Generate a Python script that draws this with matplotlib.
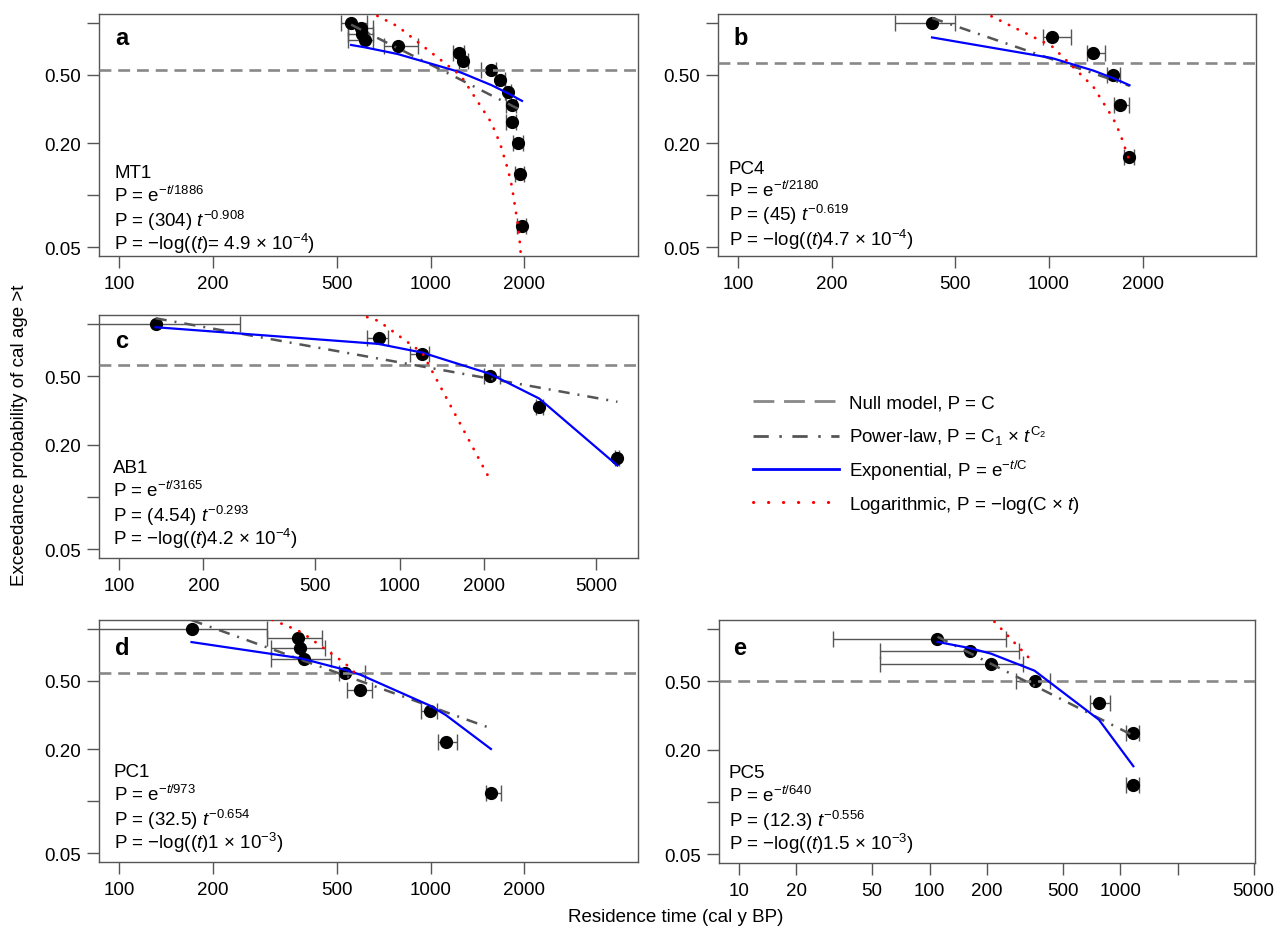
import matplotlib
matplotlib.use('Agg')
import matplotlib.pyplot as plt
from matplotlib.lines import Line2D
from matplotlib.ticker import FixedLocator, FixedFormatter, NullLocator

plt.rcParams['font.family'] = ['Liberation Sans', 'DejaVu Sans']
plt.rcParams['mathtext.fontset'] = 'custom'
plt.rcParams['mathtext.rm'] = 'Liberation Sans'
plt.rcParams['mathtext.it'] = 'Liberation Sans:italic'
plt.rcParams['mathtext.bf'] = 'Liberation Sans:bold'

W, H = 1275, 928
FS = 13.5

# ---- data ----
# a  MT1
a_t = [556, 599, 602, 615, 785, 1231, 1274, 1567, 1675, 1774, 1820, 1825, 1909, 1932, 1966]
a_p = [1.0, 0.933, 0.867, 0.8, 0.733, 0.667, 0.6, 0.533, 0.467, 0.4, 0.333, 0.267, 0.2, 0.133, 0.0667]
a_lo = [39, 55, 58, 70, 74, 46, 42, 120, 54, 44, 75, 80, 71, 70, 67]
a_hi = [70, 54, 50, 38, 124, 49, 42, 54, 55, 45, 59, 54, 71, 68, 66]
a_null = 0.533
a_exp = [0.745, 0.728, 0.727, 0.722, 0.660, 0.521, 0.509, 0.436, 0.411, 0.390, 0.381, 0.380, 0.363, 0.359, 0.353]
a_pow = [0.978, 0.913, 0.909, 0.891, 0.714, 0.475, 0.460, 0.380, 0.358, 0.340, 0.332, 0.331, 0.318, 0.314, 0.309]
a_log = [1.300, 1.226, 1.221, 1.199, 0.955, 0.506, 0.471, 0.264, 0.198, 0.140, 0.115, 0.112, 0.067, 0.055, 0.037]

# b  PC4
b_t = [421, 1021, 1390, 1611, 1694, 1816]
b_p = [1.0, 0.833, 0.667, 0.5, 0.333, 0.167]
b_lo = [102, 64, 61, 69, 70, 74]
b_hi = [79, 158, 127, 83, 122, 64]
b_null = 0.583
b_exp = [0.824, 0.626, 0.529, 0.478, 0.460, 0.435]
b_pow = [1.069, 0.617, 0.510, 0.466, 0.451, 0.432]
b_log = [1.620, 0.734, 0.426, 0.278, 0.228, 0.158]

# c  AB1
c_t = [135, 841, 1205, 2099, 3140, 5970]
c_p = [1.0, 0.833, 0.667, 0.5, 0.333, 0.167]
c_lo = [134, 75, 117, 98, 67, 100]
c_hi = [135, 71, 63, 186, 110, 100]
c_null = 0.583
c_exp = [0.958, 0.767, 0.683, 0.515, 0.371, 0.152]
c_pow = [1.079, 0.631, 0.568, 0.483, 0.429, 0.355]
c_log_t = [135, 841, 1205, 2099]
c_log = [2.87, 1.041, 0.681, 0.126]

# d  PC1
d_t = [171, 375, 382, 394, 532, 596, 996, 1121, 1563]
d_p = [1.0, 0.889, 0.778, 0.667, 0.556, 0.444, 0.333, 0.222, 0.111]
d_lo = [170, 76, 74, 86, 24, 55, 65, 63, 53]
d_hi = [128, 75, 77, 87, 86, 51, 57, 92, 120]
d_null = 0.556
d_exp = [0.839, 0.680, 0.675, 0.667, 0.579, 0.542, 0.359, 0.316, 0.201]
d_pow = [1.125, 0.674, 0.666, 0.652, 0.536, 0.498, 0.356, 0.329, 0.265]
d_log_t = [171, 375, 382, 394, 532, 596]
d_log = [1.766, 0.981, 0.962, 0.931, 0.631, 0.518]

# e  PC5
e_t = [110, 162, 210, 355, 772, 1170, 1170]
e_p = [0.875, 0.75, 0.625, 0.5, 0.375, 0.25, 0.125]
e_lo = [79, 107, 155, 72, 80, 102, 102]
e_hi = [142, 133, 97, 75, 115, 90, 90]
e_null = 0.5
e_exp = [0.842, 0.776, 0.720, 0.574, 0.299, 0.161, 0.161]
e_pow = [0.902, 0.727, 0.629, 0.470, 0.305, 0.242, 0.242]
e_log_t = [110, 162, 210, 355]
e_log = [1.802, 1.415, 1.155, 0.630]

# annotation text
a_txt = ['MT1', '1886', '(304)', '-0.908', '= 4.9 \u00d7 10$^{-4}$']
b_txt = ['PC4', '2180', '(45)', '-0.619', '4.7 \u00d7 10$^{-4}$']
c_txt = ['AB1', '3165', '(4.54)', '-0.293', '4.2 \u00d7 10$^{-4}$']
d_txt = ['PC1', '973', '(32.5)', '-0.654', '1 \u00d7 10$^{-3}$']
e_txt = ['PC5', '640', '(12.3)', '-0.556', '1.5 \u00d7 10$^{-3}$']

x_ticks_abd = [100, 200, 500, 1000, 2000]
x_ticks_c = [100, 200, 500, 1000, 2000, 5000]
x_ticks_e = [10, 20, 50, 100, 200, 500, 1000, 2000, 5000]
x_lab_e = ['10', '20', '50', '100', '200', '500', '1000', '', '5000']
y_ticks = [0.05, 0.1, 0.2, 0.5, 1.0]
y_lab = ['0.05', '', '0.20', '0.50', '']

legend_labels = ['Null model, P = C',
                 'Power-law, P = C$_1$ \u00d7 $t^{\\mathrm{C}_2}$',
                 'Exponential, P = e$^{-t/\\mathrm{C}}$',
                 'Logarithmic, P = \u2212log(C \u00d7 $t$)']

NULL_KW = dict(color='#888888', lw=1.9, dashes=(4.5, 2.6))
POW_KW = dict(color='#555555', lw=1.8, dashes=(4.5, 3.2, 0.8, 3.2))
EXP_KW = dict(color='#0000ff', lw=1.6)
LOG_KW = dict(color='#ff0000', lw=2.0, dashes=(0.1, 3.4), dash_capstyle='round')
EDGE = '#555555'

fig = plt.figure(figsize=(W / 100, H / 100), dpi=100)


def draw_panel(box, xlim, xt, xl, t, p, lo, hi, null, ex, pw, lt, lp, txt,
               letter, tx, bases, let_pos):
    x0, y0, x1, y1 = box
    ax = fig.add_axes([x0 / W, 1 - y1 / H, (x1 - x0) / W, (y1 - y0) / H])
    ax.set_xscale('log')
    ax.set_yscale('log')
    ax.set_xlim(xlim)
    ax.set_ylim(0.0444, 1.127)
    ax.xaxis.set_major_locator(FixedLocator(xt))
    ax.xaxis.set_major_formatter(FixedFormatter(xl))
    ax.xaxis.set_minor_locator(NullLocator())
    ax.yaxis.set_major_locator(FixedLocator(y_ticks))
    ax.yaxis.set_major_formatter(FixedFormatter(y_lab))
    ax.yaxis.set_minor_locator(NullLocator())
    for s in ax.spines.values():
        s.set_color(EDGE)
        s.set_linewidth(1.0)
    ax.tick_params(length=8.5, width=1, color=EDGE, labelsize=FS)
    ax.tick_params(axis='x', pad=5.5)
    ax.tick_params(axis='y', pad=4.5)

    ax.errorbar(t, p, xerr=[lo, hi], fmt='none', ecolor=EDGE, elinewidth=1,
                capsize=5.8, capthick=1, zorder=2)
    ax.plot(t, p, 'o', color='k', ms=8.5, zorder=3)
    ax.axhline(null, zorder=4, **NULL_KW)
    ax.plot(t, pw, zorder=4, **POW_KW)
    ax.plot(t, ex, zorder=4, **EXP_KW)
    ax.plot(lt, lp, zorder=5, **LOG_KW)

    wpx, hpx = x1 - x0, y1 - y0
    lines = [txt[0],
             'P = e$^{-t/%s}$' % txt[1],
             'P = %s $t^{%s}$' % (txt[2], txt[3]),
             'P = \u2212log(($t$)%s)' % txt[4]]
    for s, b in zip(lines, bases):
        ax.text(tx / wpx, b / hpx, s, transform=ax.transAxes, fontsize=FS,
                ha='left', va='baseline')
    ax.text(let_pos[0] / wpx, 1 - let_pos[1] / hpx, letter, transform=ax.transAxes,
            fontsize=17, fontweight='bold', ha='left', va='baseline')
    return ax


xl_abd = [str(v) for v in x_ticks_abd]
xl_c = [str(v) for v in x_ticks_c]

draw_panel((99, 15, 638, 257), (86.3, 4634), x_ticks_abd, xl_abd, a_t, a_p, a_lo, a_hi,
           a_null, a_exp, a_pow, a_t, a_log, a_txt, 'a', 15, (79, 55, 30, 7), (16, 30))
draw_panel((718, 15, 1256, 257), (86.3, 4634), x_ticks_abd, xl_abd, b_t, b_p, b_lo, b_hi,
           b_null, b_exp, b_pow, b_t, b_log, b_txt, 'b', 11, (83, 60, 36, 11), (15, 30))
draw_panel((99, 316, 638, 559), (84.9, 7068), x_ticks_c, xl_c, c_t, c_p, c_lo, c_hi,
           c_null, c_exp, c_pow, c_log_t, c_log, c_txt, 'c', 14, (86, 62, 37, 13.5), (16, 32))
draw_panel((99, 621, 638, 863), (86.3, 4634), x_ticks_abd, xl_abd, d_t, d_p, d_lo, d_hi,
           d_null, d_exp, d_pow, d_log_t, d_log, d_txt, 'd', 14.5, (86, 62, 37, 13.5), (16, 34))
draw_panel((719, 621, 1255, 864), (7.87, 5081), x_ticks_e, x_lab_e, e_t, e_p, e_lo, e_hi,
           e_null, e_exp, e_pow, e_log_t, e_log, e_txt, 'e', 10, (86, 62, 37, 13.5), (14.5, 34))

# legend in the empty slot
leg_kw = [dict(color='#888888', lw=2.0, dashes=(7.5, 3.5)),
          dict(color='#555555', lw=2.0, dashes=(5.5, 3.8, 0.9, 3.8)),
          dict(color='#0000ff', lw=2.0),
          dict(color='#ff0000', lw=2.2, dashes=(0.1, 4.8), dash_capstyle='round')]
leg_y = [402, 437, 470, 503]
leg_base = [408.5, 443.5, 477, 510.5]
for kw, yl, yb, lab in zip(leg_kw, leg_y, leg_base, legend_labels):
    fig.add_artist(Line2D([753 / W, 839 / W], [1 - yl / H, 1 - yl / H],
                          transform=fig.transFigure, **kw))
    fig.text(849 / W, 1 - yb / H, lab, fontsize=FS, ha='left', va='baseline')

fig.text(20 / W, 1 - 435 / H, 'Exceedance probability of cal age >t', rotation=90,
         fontsize=FS, ha='center', va='center')
fig.text(676 / W, 1 - 922 / H, 'Residence time (cal y BP)', fontsize=FS,
         ha='center', va='baseline')

fig.savefig('out.png', dpi=100)
